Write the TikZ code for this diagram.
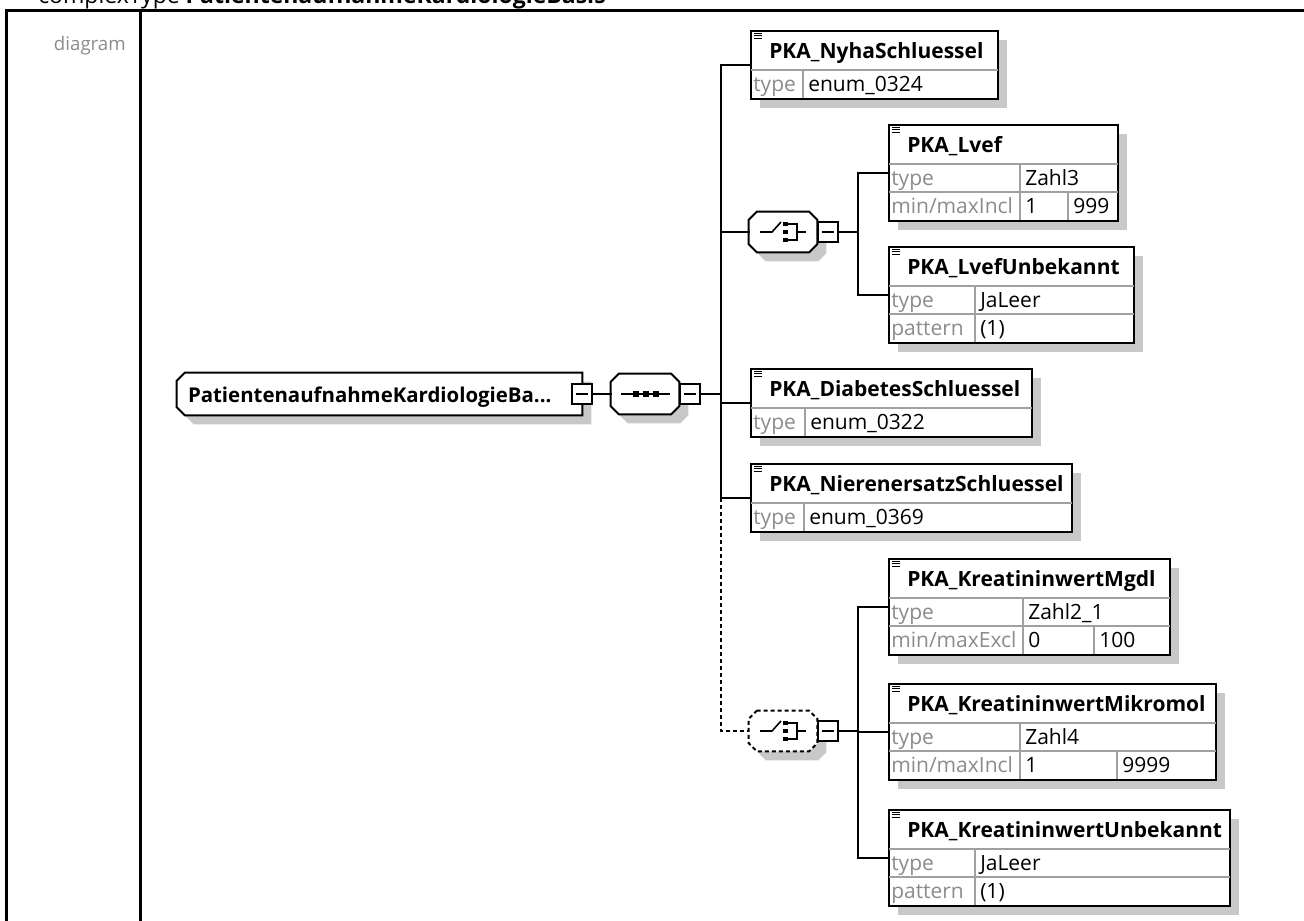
\documentclass[tikz,border=0pt]{standalone}
\usepackage{fontspec}
\setmainfont{Open Sans}
\usepackage{tikz}
\usetikzlibrary{positioning, calc, shadows}
\definecolor{shadowgray}{RGB}{200,200,200}
\definecolor{labelgray}{RGB}{140,140,140}
\definecolor{rulegray}{RGB}{160,160,160}
\tikzset{
  frameline/.style={line width=2.25pt},
  conn/.style={line width=1.5pt, line cap=rect},
  optconn/.style={line width=1.5pt, dash pattern=on 3pt off 2.25pt},
  divider/.style={draw=rulegray, line width=1.5pt},
  cutline/.style={
    draw, line width=1.5pt, fill=white,
    preaction={fill=shadowgray, transform canvas={shift={(6.75pt,-6.75pt)}}}
  },
  elembox/.style={
    rectangle, draw, line width=1.5pt, fill=white,
    anchor=north west, inner sep=0pt,
    general shadow={fill=shadowgray, shadow xshift=6.75pt, shadow yshift=-6.75pt}
  },
  rootbox/.style={rectangle, inner sep=0pt, minimum width=303.75pt, minimum height=31.5pt},
  compositor/.style={rectangle, inner sep=0pt, minimum width=51pt, minimum height=30pt},
  minusbox/.style={
    rectangle, draw, line width=1.5pt, fill=white, minimum size=15pt, inner sep=0pt,
    path picture={\draw[line width=1.5pt] ([xshift=3pt]path picture bounding box.west)
      -- ([xshift=-3pt]path picture bounding box.east);}
  },
  titletext/.style={anchor=base west, inner sep=0pt, font=\fontsize{15.75}{19}\selectfont\bfseries},
  attrlabel/.style={anchor=base west, inner sep=0pt, text=labelgray, font=\fontsize{15.75}{19}\selectfont},
  attrvalue/.style={anchor=base west, inner sep=0pt, font=\fontsize{15.75}{19}\selectfont},
  icon/.style={line width=1.2pt},
}

% cut-corner outline round a node: node, left cut, right cut, line options
\newcommand{\cutbox}[4]{%
  \path[cutline, #4]
    ($(#1.north west)+(#2,0)$) -- ($(#1.north east)+(-#3,0)$) -- ($(#1.north east)+(0,#3)$)
    -- ($(#1.south east)+(0,-#3)$) -- ($(#1.south east)+(-#3,0)$) -- ($(#1.south west)+(#2,0)$)
    -- ($(#1.south west)+(0,-#2)$) -- ($(#1.north west)+(0,#2)$) -- cycle;
}
% element box: name, x, y, width, rows, title
\newcommand{\elem}[6]{%
  \node[elembox, minimum width=#4*0.75pt, minimum height={(40+28*#5)*0.75pt}] (#1) at (#2,#3) {};
  \foreach \k in {3,5.5,8}
    \draw[line width=0.75pt] ($(#1.north west)+(4,\k)$) -- ++(8,0);
  \node[titletext] at ($(#1.north west)+(19,28.5)$) {#6};
}
% attribute row: node, row, label column, label, value
\newcommand{\attr}[5]{%
  \draw[divider] ($(#1.north west)+(1,{12+28*#2})$) -- ($(#1.north east)+(-1,{12+28*#2})$);
  \draw[divider] ($(#1.north west)+(#3,{12+28*#2})$) -- ($(#1.north west)+(#3,{40+28*#2})$);
  \node[attrlabel] at ($(#1.north west)+(3,{33.5+28*#2})$) {#4};
  \node[attrvalue] at ($(#1.north west)+(#3+5,{33.5+28*#2})$) {#5};
}
% range row: as \attr plus second column and value
\newcommand{\range}[7]{%
  \attr{#1}{#2}{#3}{#4}{#5}
  \draw[divider] ($(#1.north west)+(#6,{12+28*#2})$) -- ($(#1.north west)+(#6,{40+28*#2})$);
  \node[attrvalue] at ($(#1.north west)+(#6+5,{33.5+28*#2})$) {#7};
}
% choice symbol inside a compositor
\newcommand{\choiceicon}[1]{%
  \draw[icon] ($(#1.center)+(-23,0)$) -- ++(12,0) -- ++(9,-10);
  \foreach \dy in {-8,0,8}
    \fill ($(#1.center)+(-0.5,\dy-2.25)$) rectangle ++(5,4.5);
  \draw[icon] ($(#1.center)+(4.5,-8)$) -- ++(9.5,0) -- ++(0,16) -- ++(-9.5,0);
  \draw[icon] ($(#1.center)+(14,0)$) -- ++(9,0);
}

\begin{document}
\begin{tikzpicture}[x=0.75pt, y=-0.75pt]
  \clip (0,0) rectangle (1304,921);
  \useasboundingbox (0,0) rectangle (1304,921);

  % Frame and heading
  \node[anchor=base west, inner sep=0pt, font=\fontsize{17.25}{21}\selectfont] (heading) at (38,3)
       {complexType \textbf{PatientenaufnahmeKardiologieBasis}};
  \draw[frameline] (6,921) -- (6,10) -- (1304,10);
  \draw[frameline] (140,10) -- (140,921);
  \node[anchor=base east, inner sep=0pt, text=labelgray, font=\fontsize{14}{17}\selectfont]
       (caption) at (126,50) {diagram};

  % Root element and compositors
  \node[rootbox] (root) at (379.5,394) {};
  \cutbox{root}{8}{0}{}
  \node[titletext, font=\fontsize{15.3}{19}\selectfont\bfseries] (roottext) at ($(root.west)+(11,8)$)
       {PatientenaufnahmeKardiologieBa...};
  \node[minusbox] (rootm) at (root.east) {};

  \node[compositor] (seq) at (645,394) {};
  \cutbox{seq}{8}{8}{}
  \node[minusbox, anchor=west] (seqm) at (seq.east) {};
  \draw[line width=1.5pt] ($(seq.center)+(-24,0)$) -- ($(seq.center)+(25,0)$);
  \foreach \dx in {-9,1,11}
    \fill ($(seq.center)+(\dx-3.25,-3.25)$) rectangle ++(6.5,6.5);

  \node[compositor] (ch1) at (783,232) {};
  \cutbox{ch1}{8}{8}{}
  \node[minusbox, anchor=west] (ch1m) at (ch1.east) {};
  \choiceicon{ch1}

  \node[compositor] (ch2) at (783,731) {};
  \cutbox{ch2}{8}{8}{dash pattern=on 3pt off 2.25pt}
  \node[minusbox, anchor=west] (ch2m) at (ch2.east) {};
  \choiceicon{ch2}

  % Element boxes
  \elem{nyha}{750}{30}{247}{1}{PKA\_NyhaSchluessel}
  \attr{nyha}{1}{53}{type}{enum\_0324}

  \elem{lvef}{888}{124}{229}{2}{PKA\_Lvef}
  \attr{lvef}{1}{132}{type}{Zahl3}
  \range{lvef}{2}{132}{min/maxIncl}{1}{180}{999}

  \elem{lvefunb}{888}{246}{245}{2}{PKA\_LvefUnbekannt}
  \attr{lvefunb}{1}{87}{type}{JaLeer}
  \attr{lvefunb}{2}{87}{pattern}{(1)}

  \elem{diab}{750}{368}{281}{1}{PKA\_DiabetesSchluessel}
  \attr{diab}{1}{55}{type}{enum\_0322}

  \elem{nier}{750}{463}{321}{1}{PKA\_NierenersatzSchluessel}
  \attr{nier}{1}{54}{type}{enum\_0369}

  \elem{mgdl}{888}{558}{281}{2}{PKA\_KreatininwertMgdl}
  \attr{mgdl}{1}{135}{type}{Zahl2\_1}
  \range{mgdl}{2}{135}{min/maxExcl}{0}{206}{100}

  \elem{mikro}{888}{683}{327}{2}{PKA\_KreatininwertMikromol}
  \attr{mikro}{1}{132}{type}{Zahl4}
  \range{mikro}{2}{132}{min/maxIncl}{1}{229}{9999}

  \elem{krunb}{888}{809}{341}{2}{PKA\_KreatininwertUnbekannt}
  \attr{krunb}{1}{87}{type}{JaLeer}
  \attr{krunb}{2}{87}{pattern}{(1)}

  % Connectors
  \coordinate (trunk) at ($(seqm.east)+(20,0)$);
  \coordinate (fork1) at ($(ch1m.east)+(19,0)$);
  \coordinate (fork2) at ($(ch2m.east)+(19,0)$);
  \draw[conn] (rootm.east) -- (seq.west);
  \draw[conn] (seqm.east) -- (trunk);
  \draw[conn] (trunk |- nyha.west) -- (trunk |- nier.west);
  \foreach \n in {nyha, ch1, diab, nier}
    \draw[conn] (trunk |- \n.west) -- (\n.west);
  \draw[optconn] (trunk |- nier.west) |- (ch2.west);

  \draw[conn] (ch1m.east) -- (fork1);
  \draw[conn] (fork1 |- lvef.west) -- (fork1 |- lvefunb.west);
  \foreach \n in {lvef, lvefunb}
    \draw[conn] (fork1 |- \n.west) -- (\n.west);

  \draw[conn] (ch2m.east) -- (fork2);
  \draw[conn] (fork2 |- mgdl.west) -- (fork2 |- krunb.west);
  \foreach \n in {mgdl, mikro, krunb}
    \draw[conn] (fork2 |- \n.west) -- (\n.west);
\end{tikzpicture}
\end{document}
